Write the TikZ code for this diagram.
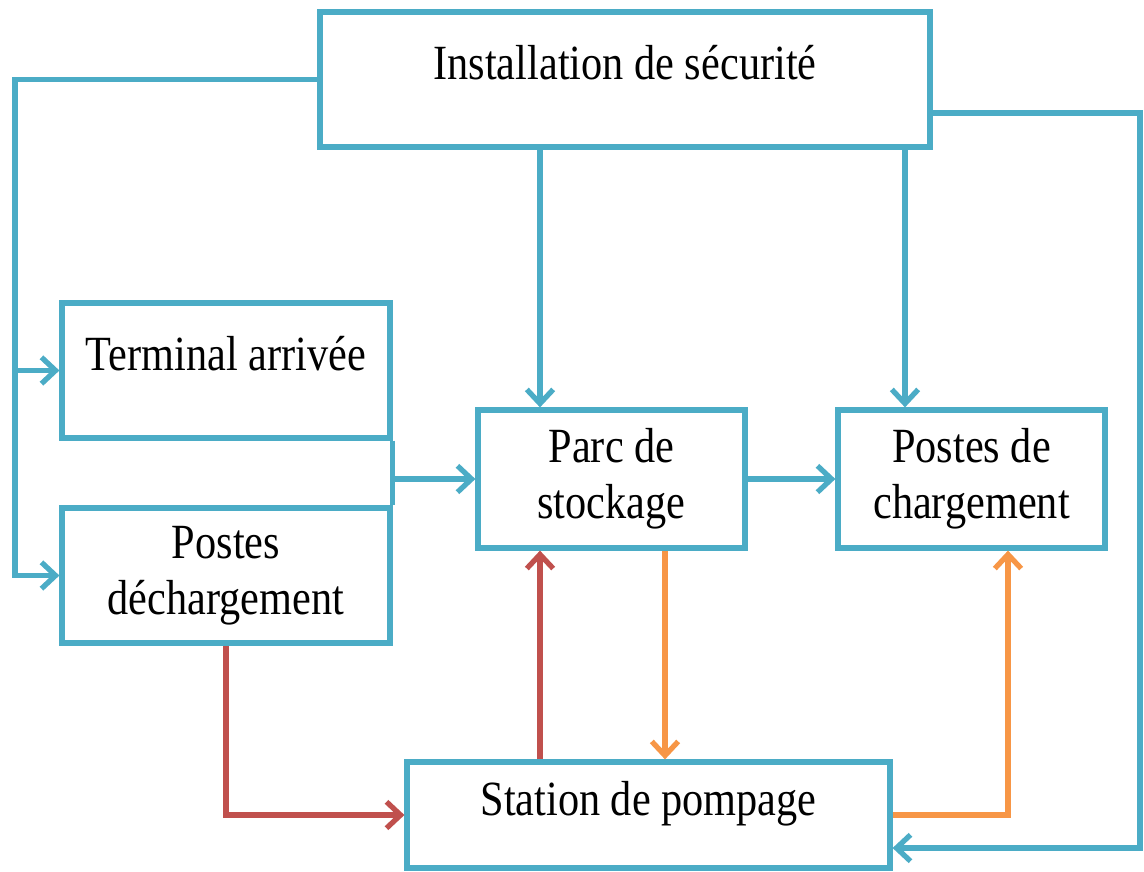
\documentclass[tikz,border=0pt]{standalone}
\usepackage{fontspec}
\setmainfont{Liberation Serif}[FakeStretch=0.86]
\usetikzlibrary{arrows.meta}
\definecolor{aqua}{HTML}{4BACC6}
\definecolor{brique}{HTML}{C0504D}
\definecolor{orangeclair}{HTML}{F79646}
\begin{document}
\begin{tikzpicture}[x=0.02cm,y=-0.02cm,line width=3pt,
    >={Straight Barb[length=8pt,width=15pt]},
    bloc/.style={draw=aqua,fill=white,align=center,inner sep=0pt,
      font=\fontsize{28}{32}\selectfont},
    uneligne/.style={text height=0.7em,text depth=0.7em},
    liaison/.style={draw=aqua,->},
    fluxrouge/.style={draw=brique,->},
    fluxorange/.style={draw=orangeclair,->}]
        \useasboundingbox (0,0) rectangle (1144,872);
        \node[bloc,uneligne,minimum width=12.2cm,minimum height=2.7cm] (secu) at (625,79.5) {Installation de sécurité};
        \node[bloc,uneligne,minimum width=6.56cm,minimum height=2.7cm] (terminal) at (226,370.5) {Terminal arrivée};
        \node[bloc,minimum width=6.56cm,minimum height=2.7cm] (decharg) at (226,575.5) {Postes\\déchargement};
        \node[bloc,minimum width=5.34cm,minimum height=2.76cm] (parc) at (611.5,479) {Parc de\\stockage};
        \node[bloc,minimum width=5.34cm,minimum height=2.76cm] (chargement) at (971.5,479) {Postes de\\chargement};
        \node[bloc,uneligne,minimum width=9.66cm,minimum height=2.12cm] (pompage) at (648.5,815) {Station de pompage};
        \coordinate (gauche) at (15,575.5);
        \coordinate (droitehaut) at (1140,113);
        \coordinate (droitebas) at (1140,848);
        \coordinate (xparc) at (540,0);
        \coordinate (xchar) at (905,0);
        \coordinate (xpomp) at (665,0);
        \coordinate (xretour) at (1008,0);
        \draw[liaison] (secu.west) -| (gauche) -- (decharg.west);
        \draw[liaison] (gauche |- terminal.west) -- (terminal.west);
        \draw[liaison,-] (terminal.south east) -- (decharg.north east);
        \draw[liaison] (parc.west -| terminal.east) -- (parc.west);
        \draw[liaison] (secu.south -| xparc) -- (parc.north -| xparc);
        \draw[liaison] (secu.south -| xchar) -- (chargement.north -| xchar);
        \draw[liaison] (parc.east) -- (chargement.west);
        \draw[liaison] (secu.east |- droitehaut) -- (droitehaut) -- (droitebas) -- (pompage.east |- droitebas);
        \draw[fluxrouge] (decharg.south) |- (pompage.west);
        \draw[fluxrouge] (pompage.north -| xparc) -- (parc.south -| xparc);
        \draw[fluxorange] (parc.south -| xpomp) -- (pompage.north -| xpomp);
        \draw[fluxorange] (pompage.east) -| (chargement.south -| xretour);
      \end{tikzpicture}
\end{document}
